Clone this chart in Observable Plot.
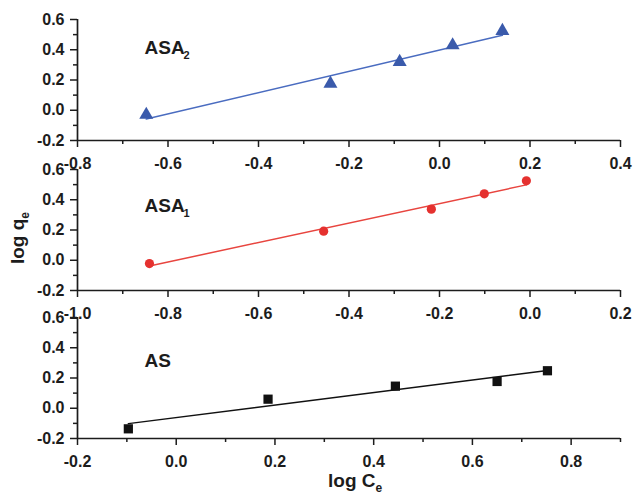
<!DOCTYPE html>
<html><head><meta charset="utf-8">
<script src="https://cdn.jsdelivr.net/npm/d3@7"></script>
<script src="https://cdn.jsdelivr.net/npm/@observablehq/plot@0.6"></script>
<style>
body{margin:0;background:#fff;}
#wrap{position:relative;width:634px;height:494px;font-family:"Liberation Sans",Arial,sans-serif;color:#1c1c1c;}
.panel{position:absolute;left:0;}
.lab{position:absolute;font-weight:bold;font-size:19px;line-height:19px;white-space:nowrap;}
.lab sub{font-size:12px;vertical-align:baseline;position:relative;top:5px;}
</style></head><body><div id="wrap"></div>
<script>
// ---- data ----
const asa2X = [-0.648, -0.241, -0.088, 0.029, 0.139];
const asa2Y = [-0.030, 0.176, 0.320, 0.430, 0.525];
const asa1X = [-0.841, -0.456, -0.218, -0.101, -0.008];
const asa1Y = [-0.022, 0.192, 0.338, 0.439, 0.525];
const asX   = [-0.097, 0.186, 0.444, 0.650, 0.752];
const asY   = [-0.136, 0.060, 0.146, 0.177, 0.248];

const yDomain = [-0.2, 0.6];
const yTicks = [-0.2, 0.0, 0.2, 0.4, 0.6];
const yMinor = [-0.1, 0.1, 0.3, 0.5];

const asa2XDomain = [-0.8, 0.4];
const asa2XTicks = [-0.8, -0.6, -0.4, -0.2, 0.0, 0.2, 0.4];
const asa2XMinor = [-0.7, -0.5, -0.3, -0.1, 0.1, 0.3];

const asa1XDomain = [-1.0, 0.2];
const asa1XTicks = [-1.0, -0.8, -0.6, -0.4, -0.2, 0.0, 0.2];
const asa1XMinor = [-0.9, -0.7, -0.5, -0.3, -0.1, 0.1];

const asXDomain = [-0.2, 0.9];
const asXTicks = [-0.2, 0.0, 0.2, 0.4, 0.6, 0.8];
const asXMinor = [-0.1, 0.1, 0.3, 0.5, 0.7, 0.9];

const seriesNames = ["ASA", "ASA", "AS"];
const seriesSubs = ["2", "1", ""];
const xTitle = "log C";
const yTitle = "log q";
const titleSub = "e";

// ---- drawing ----
const wrap = document.getElementById("wrap");
const fmt = d => d.toFixed(1);
const font = '"Liberation Sans", Arial, sans-serif';

const panels = [
  {xs: asa2X, ys: asa2Y, xDomain: asa2XDomain, xTicks: asa2XTicks, xMinor: asa2XMinor,
   name: seriesNames[0], sub: seriesSubs[0], fill: "#3a5aab", line: "#4a6cc0", symbol: "triangle", r: 5.2, top: 0, labDy: 34},
  {xs: asa1X, ys: asa1Y, xDomain: asa1XDomain, xTicks: asa1XTicks, xMinor: asa1XMinor,
   name: seriesNames[1], sub: seriesSubs[1], fill: "#e5312f", line: "#e8453f", symbol: "circle", r: 4.6, top: 150, labDy: 42},
  {xs: asX, ys: asY, xDomain: asXDomain, xTicks: asXTicks, xMinor: asXMinor,
   name: seriesNames[2], sub: seriesSubs[2], fill: "#111", line: "#111", symbol: "square", r: 5.2, top: 298, labDy: 49}
];

for (const p of panels) {
  const data = p.xs.map((x, i) => ({x, y: p.ys[i]}));
  const chart = Plot.plot({
    width: 634, height: 170,
    marginLeft: 77, marginRight: 14, marginTop: 19, marginBottom: 30,
    style: {background: "none", overflow: "visible", fontFamily: font, color: "#1c1c1c"},
    x: {domain: p.xDomain, axis: null},
    y: {domain: yDomain, axis: null},
    marks: [
      Plot.axisX(p.xTicks, {tickSize: 7, tickPadding: 10, tickFormat: fmt, fontSize: 16, fontWeight: "bold", strokeWidth: 1.5, label: null}),
      Plot.axisX(p.xMinor, {tickSize: 4, tickFormat: () => "", strokeWidth: 1.5, label: null}),
      Plot.axisY(yTicks, {tickSize: 7, tickPadding: 6, tickFormat: fmt, fontSize: 16, fontWeight: "bold", strokeWidth: 1.5, label: null}),
      Plot.axisY(yMinor, {tickSize: 4, tickFormat: () => "", strokeWidth: 1.5, label: null}),
      Plot.ruleY([yDomain[0]], {strokeWidth: 1.7}),
      Plot.ruleX([p.xDomain[0]], {strokeWidth: 1.7}),
      Plot.linearRegressionY(data, {x: "x", y: "y", stroke: p.line, ci: 0, strokeWidth: 1.5}),
      Plot.dot(data, {x: "x", y: "y", symbol: p.symbol, r: p.r, fill: p.fill, stroke: "none"}),
      Plot.text([p.name], {text: d => d, frameAnchor: "top-left", dx: 67, dy: p.labDy, lineAnchor: "bottom", textAnchor: "start", fontSize: 19, fontWeight: "bold"}),
      Plot.text([p.sub], {text: d => d, frameAnchor: "top-left", dx: 106, dy: p.labDy + 5, lineAnchor: "bottom", textAnchor: "start", fontSize: 11, fontWeight: "bold"})
    ]
  });
  chart.classList.add("panel");
  chart.style.top = p.top + "px";
  chart.style.position = "absolute";
  wrap.appendChild(chart);
}

const xl = document.createElement("div");
xl.className = "lab";
xl.style.left = "328px";
xl.style.top = "471px";
xl.innerHTML = xTitle + "<sub>" + titleSub + "</sub>";
wrap.appendChild(xl);

const yl = document.createElement("div");
yl.className = "lab";
yl.style.left = "19px";
yl.style.top = "238px";
yl.style.transform = "translate(-50%,-50%) rotate(-90deg)";
yl.innerHTML = yTitle + "<sub>" + titleSub + "</sub>";
wrap.appendChild(yl);
</script></body></html>
